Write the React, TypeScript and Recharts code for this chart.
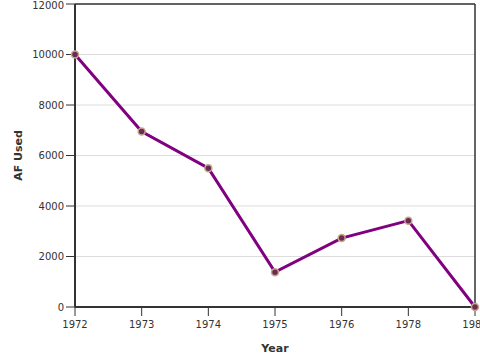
import React from 'react';
import { LineChart, Line, XAxis, YAxis, CartesianGrid, ReferenceLine } from 'recharts';

const years = ['1972', '1973', '1974', '1975', '1976', '1978', '1980'];
const afUsed = [10000, 6950, 5500, 1380, 2730, 3420, 0];
const yTicks = [0, 2000, 4000, 6000, 8000, 10000, 12000];

const data = years.map((year, i) => ({ year, af: afUsed[i] }));

const FONT = '"DejaVu Sans", sans-serif';
const AXIS = '#333';

// rotated y label, centred on the plot height
const YLabel = ({ viewBox }: any) => {
    const cx = 18;
    const cy = viewBox.y + viewBox.height / 2;
    return (
        <text
            x={cx}
            y={cy}
            transform={`rotate(-90, ${cx}, ${cy})`}
            textAnchor="middle"
            dominantBaseline="central"
            fill="#333"
            fontSize={11}
            fontWeight="bold"
            fontFamily={FONT}
        >
            AF Used
        </text>
    );
};

const App: React.FC = () => {
    return (
        <div style={{ position: 'absolute', left: 0, top: 0, width: 480, height: 360, fontFamily: FONT }}>
            <LineChart width={480} height={360} data={data} margin={{ top: 4, right: 5, left: 0, bottom: 0 }}>
                <CartesianGrid vertical={false} stroke="#ddd" strokeWidth={1} />
                <XAxis
                    dataKey="year"
                    height={53}
                    stroke={AXIS}
                    strokeWidth={2}
                    tickSize={9}
                    tick={{ fill: '#333', fontSize: 10, fontFamily: FONT, dy: 3 }}
                    tickLine={{ stroke: AXIS, strokeWidth: 1 }}
                    interval={0}
                    label={{ value: 'Year', position: 'insideBottom', offset: 8, fill: '#333', fontSize: 11, fontWeight: 'bold', fontFamily: FONT }}
                />
                <YAxis
                    width={75}
                    domain={[0, 12000]}
                    ticks={yTicks}
                    stroke={AXIS}
                    strokeWidth={2}
                    tickSize={9}
                    tick={{ fill: '#333', fontSize: 10, fontFamily: FONT }}
                    tickLine={{ stroke: AXIS, strokeWidth: 1 }}
                    label={<YLabel />}
                />
                <ReferenceLine y={12000} stroke={AXIS} strokeWidth={1.5} />
                <ReferenceLine x="1980" stroke={AXIS} strokeWidth={1.5} />
                <Line
                    type="linear"
                    dataKey="af"
                    stroke="#800080"
                    strokeWidth={3}
                    dot={{ r: 3.5, fill: '#6a2a5a', stroke: '#c8a888', strokeWidth: 1.5 }}
                    isAnimationActive={false}
                />
            </LineChart>
        </div>
    );
};

export default App;
